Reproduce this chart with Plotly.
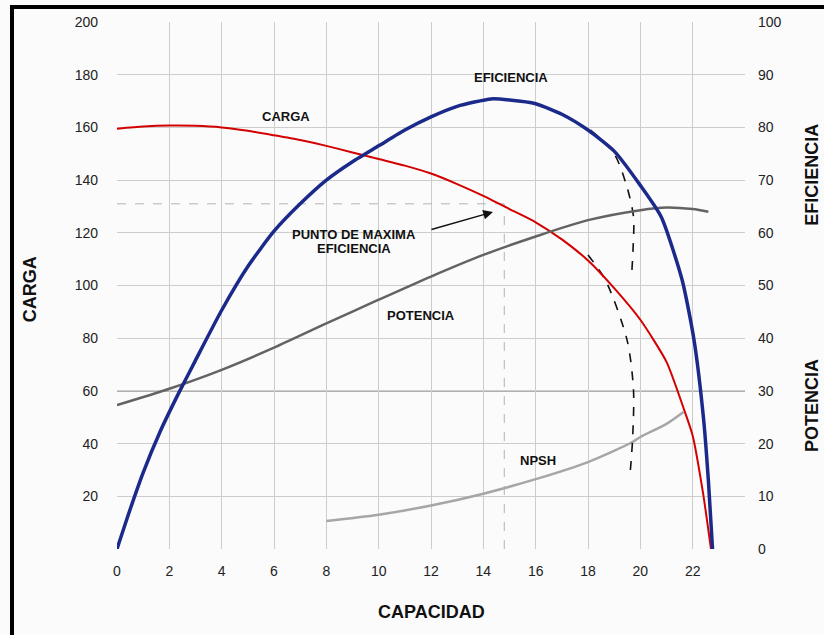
import plotly.graph_objects as go

# ---------------- data ----------------
cap_carga = [0, 1, 2, 3, 4, 5, 6, 7, 8, 9, 10, 11, 12, 13, 14, 15, 16, 17, 18, 19, 20, 21, 21.65, 22, 22.4, 22.7]
carga = [159.5, 160.3, 160.7, 160.6, 160, 158.7, 157, 155.2, 153, 150.5, 148, 145.5, 142.5, 138.5, 134, 129, 124, 117.5, 109.5, 99, 87, 71, 53.5, 43, 21, 0]

cap_efic = [0, 0.5, 1, 1.65, 2.4, 3, 4, 5, 6, 7, 8, 9, 10, 11, 12, 13, 14.3, 15, 16, 17, 18, 19, 20, 20.8, 21.6, 22.05, 22.42, 22.6, 22.76]
eficiencia = [0, 7.5, 14.5, 22.3, 30, 35.8, 45.3, 53.6, 60.3, 65.5, 70, 73.5, 76.5, 79.5, 82, 84, 85.4, 85.2, 84.5, 82.5, 79.5, 75.5, 69, 63, 51, 39.7, 24.5, 13, 0]

cap_pot = [0, 2, 4, 6, 8, 10, 12, 14, 16, 18, 20, 21, 22, 22.6]
potencia = [27.3, 30.4, 34, 38.2, 42.8, 47.3, 51.7, 55.8, 59.3, 62.4, 64.3, 64.8, 64.5, 64]

cap_npsh = [8, 10, 12, 14, 16, 18, 19.7, 20, 21, 21.65]
npsh = [10.6, 13, 16.5, 21, 26.5, 33, 40.6, 42.5, 47.5, 52]

dash1_x = [18.1, 19.0, 19.5, 19.74, 19.72, 19.66]
dash1_y = [159, 150, 137, 126, 113.5, 103]
dash2_x = [18.0, 18.67, 19.5, 19.74, 19.7, 19.62]
dash2_y = [111.6, 102, 79, 60, 41, 30]

bep_x = 14.8
bep_carga = 131

x_ticks = [0, 2, 4, 6, 8, 10, 12, 14, 16, 18, 20, 22, 24]
x_ticktext = ["0", "2", "4", "6", "8", "10", "12", "14", "16", "18", "20", "22", ""]
y1_ticks = [0, 20, 40, 60, 80, 100, 120, 140, 160, 180, 200]
y1_ticktext = ["", "20", "40", "60", "80", "100", "120", "140", "160", "180", "200"]
y2_ticks = [0, 10, 20, 30, 40, 50, 60, 70, 80, 90, 100]

FONT = "Liberation Sans, Arial, sans-serif"
BLUE = "#1b2a8a"
RED = "#d40000"
GRID = "#cdcdcd"

fig = go.Figure()

# reference dashed lines to best-efficiency point
fig.add_trace(go.Scatter(x=[0, bep_x], y=[bep_carga, bep_carga], mode="lines",
                         line=dict(color="#b3b3b3", width=1, dash="dash"), hoverinfo="skip"))
fig.add_trace(go.Scatter(x=[bep_x, bep_x], y=[0, bep_carga], mode="lines",
                         line=dict(color="#b3b3b3", width=1, dash="dash"), hoverinfo="skip"))

fig.add_trace(go.Scatter(x=cap_npsh, y=npsh, mode="lines", name="NPSH",
                         line=dict(color="#a6a6a6", width=2.5, shape="spline", smoothing=0.8)))
fig.add_trace(go.Scatter(x=cap_pot, y=potencia, mode="lines", name="POTENCIA", yaxis="y2",
                         line=dict(color="#636363", width=2.5, shape="spline", smoothing=0.8)))
fig.add_trace(go.Scatter(x=dash1_x, y=dash1_y, mode="lines",
                         line=dict(color="#111111", width=1.6, dash="dash", shape="spline", smoothing=0.8)))
fig.add_trace(go.Scatter(x=dash2_x, y=dash2_y, mode="lines",
                         line=dict(color="#111111", width=1.6, dash="dash", shape="spline", smoothing=0.8)))
fig.add_trace(go.Scatter(x=cap_carga, y=carga, mode="lines", name="CARGA",
                         line=dict(color=RED, width=2, shape="spline", smoothing=0.6)))
fig.add_trace(go.Scatter(x=cap_efic, y=eficiencia, mode="lines", name="EFICIENCIA", yaxis="y2",
                         line=dict(color=BLUE, width=3.5, shape="spline", smoothing=0.6)))

lab = dict(family=FONT, size=13, color="#111111")
ann = [
    dict(x=6.46, y=164, text="<b>CARGA</b>", showarrow=False, font=lab, xref="x", yref="y"),
    dict(x=15.06, y=179.1, text="<b>EFICIENCIA</b>", showarrow=False, font=lab, xref="x", yref="y"),
    dict(x=9.06, y=119.2, text="<b>PUNTO DE MAXIMA</b>", showarrow=False, font=lab, xref="x", yref="y"),
    dict(x=9.06, y=114.1, text="<b>EFICIENCIA</b>", showarrow=False, font=lab, xref="x", yref="y"),
    dict(x=11.6, y=88.8, text="<b>POTENCIA</b>", showarrow=False, font=lab, xref="x", yref="y"),
    dict(x=16.09, y=33.4, text="<b>NPSH</b>", showarrow=False, font=lab, xref="x", yref="y"),
    dict(x=14.37, y=127.9, ax=11.96, ay=121.1, xref="x", yref="y", axref="x", ayref="y",
         text="", showarrow=True, arrowhead=2, arrowsize=1.4, arrowwidth=1.4, arrowcolor="#111111"),
]
tit = dict(family=FONT, size=18, color="#111111")
ann += [
    dict(x=-0.1385, y=0.493, xref="paper", yref="paper", text="<b>CARGA</b>", textangle=-90,
         showarrow=False, font=tit, xanchor="center", yanchor="middle"),
    dict(x=1.1065, y=0.71, xref="paper", yref="paper", text="<b>EFICIENCIA</b>", textangle=-90,
         showarrow=False, font=tit, xanchor="center", yanchor="middle"),
    dict(x=1.1065, y=0.273, xref="paper", yref="paper", text="<b>POTENCIA</b>", textangle=-90,
         showarrow=False, font=tit, xanchor="center", yanchor="middle"),
    dict(x=0.5, y=-0.1195, xref="paper", yref="paper", text="<b>CAPACIDAD</b>",
         showarrow=False, font=tit, xanchor="center", yanchor="middle"),
]

shapes = [
    # heavier grid line at 60
    dict(type="line", xref="x", yref="y", x0=0, x1=24, y0=60, y1=60,
         line=dict(color="#b0b0b0", width=2), layer="below"),
    # black frame (top and left)
    dict(type="rect", xref="paper", yref="paper", x0=-0.1704, x1=1.13, y0=1.0247, y1=1.0323,
         fillcolor="black", line=dict(width=0), layer="above"),
    dict(type="rect", xref="paper", yref="paper", x0=-0.1704, x1=-0.1640, y0=-0.17, y1=1.0323,
         fillcolor="black", line=dict(width=0), layer="above"),
]

tickfont = dict(family=FONT, size=14, color="#222222")
fig.update_layout(
    width=824, height=635,
    margin=dict(l=117, r=79, t=22, b=86),
    paper_bgcolor="#fbfbfb", plot_bgcolor="#fbfbfb",
    showlegend=False,
    font=dict(family=FONT),
    xaxis=dict(range=[0, 24], tickvals=x_ticks, ticktext=x_ticktext, showgrid=True,
               gridcolor=GRID, gridwidth=1, zeroline=False, showline=False,
               tickfont=tickfont, ticks="", ticklabelstandoff=12),
    yaxis=dict(range=[0, 200], tickvals=y1_ticks, ticktext=y1_ticktext, showgrid=True,
               gridcolor=GRID, gridwidth=1, zeroline=False, showline=False,
               tickfont=tickfont, ticks="", ticklabelstandoff=18),
    yaxis2=dict(range=[0, 100], tickvals=y2_ticks, overlaying="y", side="right",
                showgrid=False, zeroline=False, showline=False,
                tickfont=tickfont, ticks="", ticklabelstandoff=12),
    annotations=ann,
    shapes=shapes,
)

fig.write_html("out.html", config={"displayModeBar": False},
               post_script="document.body.style.margin='0';document.body.style.overflow='hidden';")
